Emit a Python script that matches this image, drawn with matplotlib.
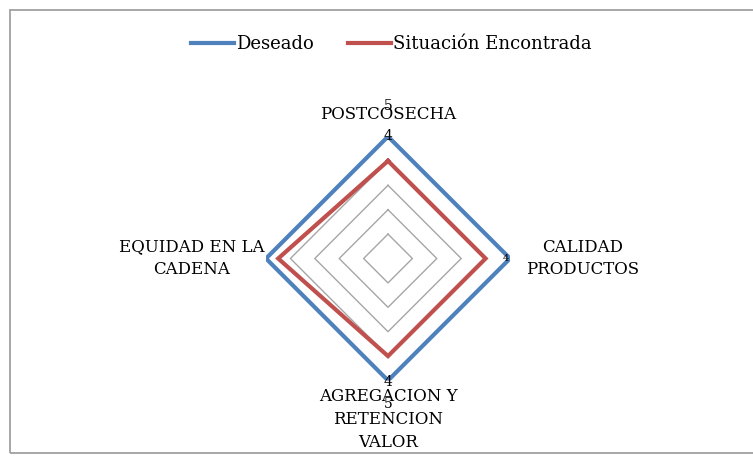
import numpy as np
import matplotlib
matplotlib.use("Agg")
import matplotlib.pyplot as plt
from matplotlib.patches import Rectangle

# Radar chart: Deseado vs Situación Encontrada

categories = ["POSTCOSECHA", "CALIDAD\nPRODUCTOS",
              "AGREGACION Y\nRETENCION\nVALOR", "EQUIDAD EN LA\nCADENA"]
deseado = [5, 5, 5, 5]
situacion = [4, 4, 4, 4.5]
rings = [1, 2, 3, 4, 5]

BLUE = "#4F81BD"
RED = "#C0504D"
GRAY = "#A6A6A6"

plt.rcParams["font.family"] = ["DejaVu Serif"]

W, H = 753, 458
fig = plt.figure(figsize=(W / 100, H / 100), dpi=100)

# chart frame
fig.patches.append(Rectangle((10 / W, (H - 453) / H), 760 / W, 443 / H,
                             transform=fig.transFigure, fill=False,
                             edgecolor="#A0A0A0", linewidth=1.3))

cx, cy, R = 388, 258.5, 122
ax = fig.add_axes([(cx - R) / W, (H - cy - R) / H, 2 * R / W, 2 * R / H],
                  projection="polar")
ax.set_theta_offset(np.pi / 2)
ax.set_theta_direction(-1)
ax.set_ylim(0, 5)
ax.grid(False)
ax.spines["polar"].set_visible(False)
ax.set_xticks([])
ax.set_yticks([])
ax.patch.set_alpha(0)

n = len(categories)
theta = np.linspace(0, 2 * np.pi, n, endpoint=False)
th_closed = np.append(theta, theta[0])

for r in rings:
    ax.plot(th_closed, [r] * (n + 1), color=GRAY, linewidth=1.0, zorder=1)

ax.plot(th_closed, deseado + deseado[:1], color=BLUE, linewidth=3.0,
        label="Deseado", zorder=3, solid_joinstyle="miter")
ax.plot(th_closed, situacion + situacion[:1], color=RED, linewidth=3.0,
        label="Situación Encontrada", zorder=3, solid_joinstyle="miter")

# category labels
lab_fs = 12
ax.text(theta[0], 5.9, categories[0], ha="center", va="center",
        fontsize=lab_fs, clip_on=False)
ax.text(theta[1], 5.65, categories[1], ha="left", va="center",
        fontsize=lab_fs, clip_on=False, multialignment="center",
        linespacing=1.45)
ax.text(theta[2], 5.3, categories[2], ha="center", va="top",
        fontsize=lab_fs, clip_on=False, multialignment="center",
        linespacing=1.45)
ax.text(theta[3], 5.05, categories[3], ha="right", va="center",
        fontsize=lab_fs, clip_on=False, multialignment="center",
        linespacing=1.45)

# stray axis value labels
ax.text(0, 6.25, "5", ha="center", va="center", fontsize=10, clip_on=False)
ax.text(0, 5.0, "4", ha="center", va="center", fontsize=10, clip_on=False)
ax.text(np.pi, 5.05, "4", ha="center", va="center", fontsize=10, clip_on=False)
ax.text(np.pi, 5.95, "5", ha="center", va="center", fontsize=10, clip_on=False)
ax.text(np.pi / 2, 4.85, "4", ha="center", va="center", fontsize=7,
        clip_on=False)

fig.legend(loc="center", bbox_to_anchor=(391 / W, (H - 44) / H), ncol=2,
           frameon=False, fontsize=13, handlelength=2.4, handletextpad=0.1,
           columnspacing=1.9)

fig.savefig("out.png", dpi=100)
